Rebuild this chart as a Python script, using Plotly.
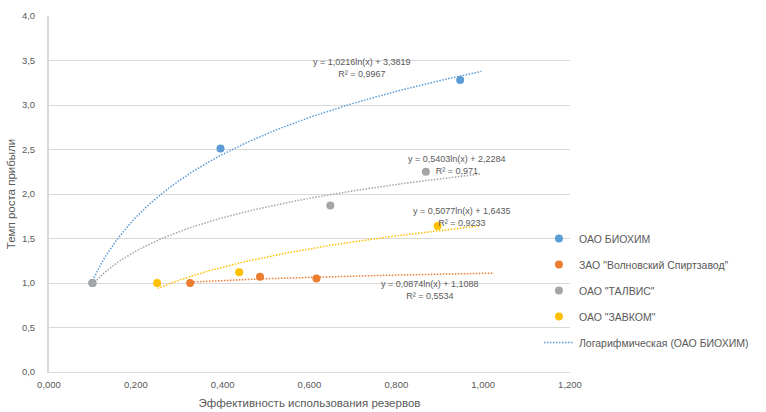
import numpy as np
import plotly.graph_objects as go

# ---- data ----
series_names = ["ОАО БИОХИМ", "ЗАО \"Волновский Спиртзавод\"", "ОАО \"ТАЛВИС\"", "ОАО \"ЗАВКОМ\""]
colors = ["#5B9BD5", "#ED7D31", "#A5A5A5", "#FFC000"]

biohim_x = [0.100, 0.395, 0.947]
biohim_y = [1.00, 2.51, 3.28]
volnov_x = [0.325, 0.486, 0.616]
volnov_y = [1.00, 1.07, 1.05]
talvis_x = [0.100, 0.648, 0.868]
talvis_y = [1.00, 1.87, 2.25]
zavkom_x = [0.249, 0.438, 0.895]
zavkom_y = [1.00, 1.12, 1.64]

# logarithmic trendline coefficients shown on the chart: y = a*ln(x) + b
trend_a = [1.0216, 0.0874, 0.5403, 0.5077]
trend_b = [3.3819, 1.1088, 2.2284, 1.6435]
trend_r2 = ["0,9967", "0,5534", "0,971", "0,9233"]
trend_xmin = [0.10, 0.32, 0.10, 0.25]
trend_xmax = [0.996, 1.025, 0.996, 0.99]

# equation label anchors (data coords)
label_x = [0.721, 0.877, 0.940, 0.951]
label_y = [3.416, 0.921, 2.331, 1.742]

xs = [biohim_x, volnov_x, talvis_x, zavkom_x]
ys = [biohim_y, volnov_y, talvis_y, zavkom_y]

FONT = "Liberation Sans"
TXT = "#595959"

fig = go.Figure()

# trendlines (behind markers)
for i in range(4):
    tx = np.linspace(trend_xmin[i], trend_xmax[i], 120)
    ty = trend_a[i] * np.log(tx) + trend_b[i]
    fig.add_trace(go.Scatter(
        x=tx, y=ty, mode="lines",
        line=dict(color=colors[i], width=1.5, dash="1.5px,1.5px"),
        name="Логарифмическая (ОАО БИОХИМ)" if i == 0 else None,
        showlegend=(i == 0), legendgroup="t%d" % i, legendrank=1000,
        hoverinfo="skip"))

for i in range(4):
    fig.add_trace(go.Scatter(
        x=xs[i], y=ys[i], mode="markers", name=series_names[i],
        marker=dict(color=colors[i], size=8),
        legendgroup="s%d" % i, legendrank=i))

def fmt(v):
    return ("%.4f" % v).replace(".", ",")

for i in range(4):
    fig.add_annotation(
        x=label_x[i], y=label_y[i], xref="x", yref="y",
        text="y = %sln(x) + %s<br>R² = %s" % (fmt(trend_a[i]), fmt(trend_b[i]), trend_r2[i]),
        showarrow=False, align="center",
        font=dict(family=FONT, size=9, color=TXT))

L, R, T, B = 49, 180, 16, 40
W, H = 766, 412
plot_w = W - L - R
plot_h = H - T - B

fig.update_layout(
    width=W, height=H,
    margin=dict(l=L, r=R, t=T, b=B),
    paper_bgcolor="white", plot_bgcolor="white",
    separators=", ",
    font=dict(family=FONT, size=9.5, color=TXT),
    showlegend=True,
    legend=dict(x=(554 - L) / plot_w, xanchor="left",
                y=(372 - 224) / plot_h, yanchor="top",
                font=dict(family=FONT, size=10.5, color=TXT),
                tracegroupgap=7, bgcolor="rgba(0,0,0,0)"),
    xaxis=dict(range=[0, 1.2], dtick=0.2, tickformat=".3f", automargin=False,
               showgrid=False, zeroline=False, showline=True,
               linecolor="#D9D9D9", linewidth=1,
               ticks="", tickfont=dict(size=9.5, color=TXT), ticklabelstandoff=4,
               title=dict(text="Эффективность использования резервов",
                          font=dict(size=11.5, color=TXT), standoff=9)),
    yaxis=dict(range=[0, 4], dtick=0.5, tickformat=".1f", automargin=False,
               showgrid=True, gridcolor="#D9D9D9", gridwidth=1,
               zeroline=False, showline=True, linecolor="#D9D9D9", linewidth=2,
               ticks="", tickfont=dict(size=9.5, color=TXT), ticklabelstandoff=10,
               title=dict(text="Темп роста прибыли",
                          font=dict(size=11.5, color=TXT), standoff=4)),
)

fig.write_html("out.html", config={"displayModeBar": False},
               post_script="document.body.style.margin='0';")
